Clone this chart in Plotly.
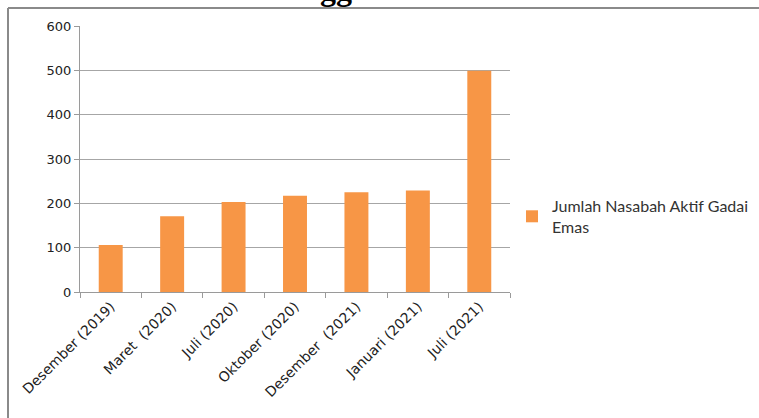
import plotly.graph_objects as go

categories = ["Desember (2019)", "Maret  (2020)", "Juli (2020)", "Oktober (2020)",
              "Desember  (2021)", "Januari (2021)", "Juli (2021)"]
values = [106, 171, 203, 217, 225, 229, 499]
series_name = "Jumlah Nasabah Aktif Gadai<br>Emas"
y_ticks = [0, 100, 200, 300, 400, 500, 600]
title_text = "Grafik Pengguna Produk Gadai"

W, H = 759, 418
L, R, T, B = 80, 249, 26, 126
pw, ph = W - L - R, H - T - B

def px_x(p):
    return (p - L) / pw

def px_y(p):
    return (H - B - p) / ph

fig = go.Figure()
fig.add_trace(go.Bar(
    x=categories, y=values, name=series_name,
    marker=dict(color="#F79646", line=dict(width=0)),
    showlegend=True,
))

fig.update_layout(
    width=W, height=H,
    margin=dict(l=L, r=R, t=T, b=B, autoexpand=False),
    paper_bgcolor="white", plot_bgcolor="white",
    bargap=0.61,
    showlegend=True,
    legend=dict(x=px_x(512), y=px_y(189), xanchor="left", yanchor="top",
                font=dict(family="Lato, Open Sans, sans-serif", size=16, color="#333333"),
                itemwidth=30, tracegroupgap=0, bgcolor="rgba(0,0,0,0)"),
    font=dict(family="DejaVu Sans, Verdana, sans-serif", size=12, color="#222222"),
    xaxis=dict(
        type="category", tickangle=-45, showgrid=False,
        showline=True, linecolor="#9a9a9a", linewidth=1,
        ticks="outside", ticklen=5, tickcolor="#9a9a9a", tickson="boundaries",
        tickfont=dict(family="DejaVu Sans, Verdana, sans-serif", size=14, color="#222222"),
    ),
    yaxis=dict(
        range=[0, 600], tickvals=y_ticks, showgrid=True, gridcolor="#a6a6a6", gridwidth=1,
        showline=True, linecolor="#9a9a9a", linewidth=1,
        ticks="outside", ticklen=5, tickcolor="#9a9a9a", zeroline=False,
        tickfont=dict(family="DejaVu Sans, Verdana, sans-serif", size=13, color="#222222"),
    ),
    shapes=[
        dict(type="line", xref="paper", yref="paper",
             x0=px_x(8), x1=px_x(W + 5), y0=px_y(8), y1=px_y(8),
             line=dict(color="#8a8a8a", width=2)),
        dict(type="line", xref="paper", yref="paper",
             x0=px_x(8), x1=px_x(8), y0=px_y(8), y1=px_y(H + 5),
             line=dict(color="#8a8a8a", width=2)),
    ],
    annotations=[
        dict(text="<b>" + title_text + "</b>", xref="paper", yref="paper",
             x=px_x(387), y=px_y(9), xanchor="center", yanchor="bottom",
             showarrow=False,
             font=dict(family="Liberation Serif, Times New Roman, serif", size=32, color="#000000")),
    ],
)

fig.write_html("out.html")
